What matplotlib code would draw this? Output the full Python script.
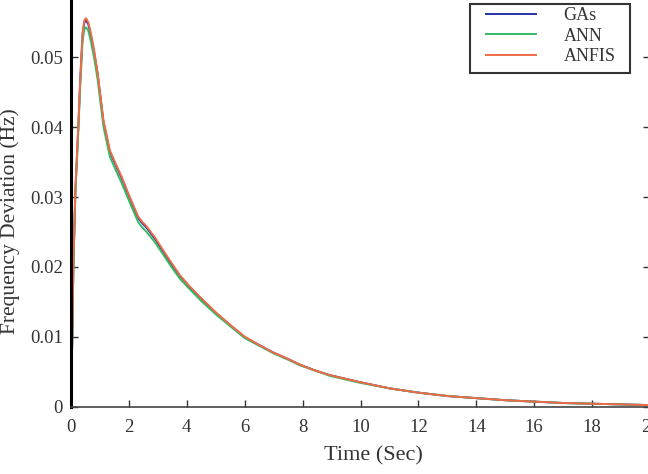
import numpy as np
import matplotlib
matplotlib.use("Agg")
import matplotlib.pyplot as plt
from matplotlib.patches import Rectangle

plt.rcParams['font.family'] = ['Liberation Serif', 'DejaVu Serif']

# time samples (s) and frequency deviation (Hz)
t = [0, 0.02, 0.05, 0.08, 0.15, 0.25, 0.32, 0.40, 0.46, 0.52, 0.60, 0.69,
     0.80, 0.92, 1.12, 1.34, 1.55, 1.75, 2.03, 2.32, 2.45, 2.61, 2.90, 3.18,
     3.45, 3.76, 4.10, 4.50, 5.00, 5.50, 6.00, 6.50, 7.00, 7.50, 7.90, 8.40,
     8.93, 9.45, 9.97, 11.0, 11.97, 13.0, 13.99, 15.0, 16.0, 17.0, 18.0, 19.0, 20.0]

anfis = [0, 0.0050, 0.0110, 0.0200, 0.0310, 0.0400, 0.0470, 0.0535, 0.0553, 0.0556,
         0.0550, 0.0534, 0.0510, 0.0478, 0.0410, 0.0367, 0.0347, 0.0329, 0.0300,
         0.0272, 0.0265, 0.0258, 0.0242, 0.0224, 0.0207, 0.0188, 0.0172, 0.0155,
         0.0135, 0.0117, 0.0100, 0.0088, 0.0077, 0.0068, 0.0060, 0.0052, 0.0045,
         0.0040, 0.0035, 0.0026, 0.0020, 0.0015, 0.0012, 0.0009, 0.0007, 0.0005,
         0.0004, 0.0003, 0.0002]

ann = [0, 0.0048, 0.0106, 0.0194, 0.0302, 0.0391, 0.0460, 0.0523, 0.0540, 0.0543,
       0.0538, 0.0522, 0.0499, 0.0468, 0.0401, 0.0358, 0.0338, 0.0320, 0.0292,
       0.0264, 0.0257, 0.0250, 0.0235, 0.0218, 0.0201, 0.0183, 0.0168, 0.0151,
       0.0132, 0.0115, 0.0098, 0.0087, 0.0076, 0.0067, 0.0059, 0.0052, 0.0044,
       0.0039, 0.0034, 0.0026, 0.0020, 0.0015, 0.0012, 0.0009, 0.0007, 0.0005,
       0.0004, 0.0003, 0.0002]

gas = [0, 0.0049, 0.0109, 0.0198, 0.0308, 0.0398, 0.0468, 0.0532, 0.0550, 0.0553,
       0.0547, 0.0531, 0.0507, 0.0476, 0.0408, 0.0365, 0.0345, 0.0327, 0.0298,
       0.0270, 0.0263, 0.0256, 0.0240, 0.0222, 0.0205, 0.0187, 0.0171, 0.0154,
       0.0134, 0.0116, 0.0099, 0.0088, 0.0077, 0.0068, 0.0060, 0.0052, 0.0045,
       0.0040, 0.0035, 0.0026, 0.0020, 0.0015, 0.0012, 0.0009, 0.0007, 0.0005,
       0.0004, 0.0003, 0.0002]

xticks = np.arange(0, 21, 2)
yticks = [0, 0.01, 0.02, 0.03, 0.04, 0.05]
ytick_labels = ['0', '0.01', '0.02', '0.03', '0.04', '0.05']

fig = plt.figure(figsize=(6.48, 4.74), dpi=100)
# the original is a crop: axes run past the top and right edges
ax = fig.add_axes([71/648, 67.5/474, 579/648, 419/474])

ax.plot(t, gas, color='#2233aa', lw=1.4, label='GAs')
ax.plot(t, ann, color='#33bb66', lw=1.4, label='ANN')
ax.plot(t, anfis, color='#f06a45', lw=1.4, label='ANFIS')

ax.set_xlim(0, 20)
ax.set_ylim(0, 0.06)
ax.set_xticks(xticks)
ax.set_yticks(yticks)
ax.set_yticklabels(ytick_labels)

ax.tick_params(direction='in', length=5, width=1, colors='#333333',
               labelsize=13.5, top=True, right=True)
ax.tick_params(axis='x', pad=9)
ax.tick_params(axis='y', pad=6)
for s in ['bottom', 'top', 'right']:
    ax.spines[s].set_color('#444444')
    ax.spines[s].set_linewidth(1.2)
ax.spines['left'].set_color('black')
ax.spines['left'].set_linewidth(2.2)

ax.set_xlabel('Time (Sec)', fontsize=16, color='#333333')
ax.set_ylabel('Frequency Deviation (Hz)', fontsize=15.5, color='#333333')
ax.xaxis.set_label_coords(0.523, -0.094)
ax.yaxis.set_label_coords(-0.0885, 0.443)

# legend box
ax.add_patch(Rectangle((470/648, 1 - 73/474), 160/648, 69/474,
                       transform=fig.transFigure, facecolor='white',
                       edgecolor='#333333', lw=1.5, zorder=4.9, clip_on=False))
leg = ax.legend(loc='upper left', bbox_to_anchor=(486/648, 1 - 7/474),
                bbox_transform=fig.transFigure, borderaxespad=0, borderpad=0,
                fontsize=13, handlelength=2.75, handletextpad=1.55,
                labelspacing=0.2, frameon=False)
leg.set_zorder(5)
for txt in leg.get_texts():
    txt.set_color('#333333')

fig.savefig('out.png', dpi=100)
